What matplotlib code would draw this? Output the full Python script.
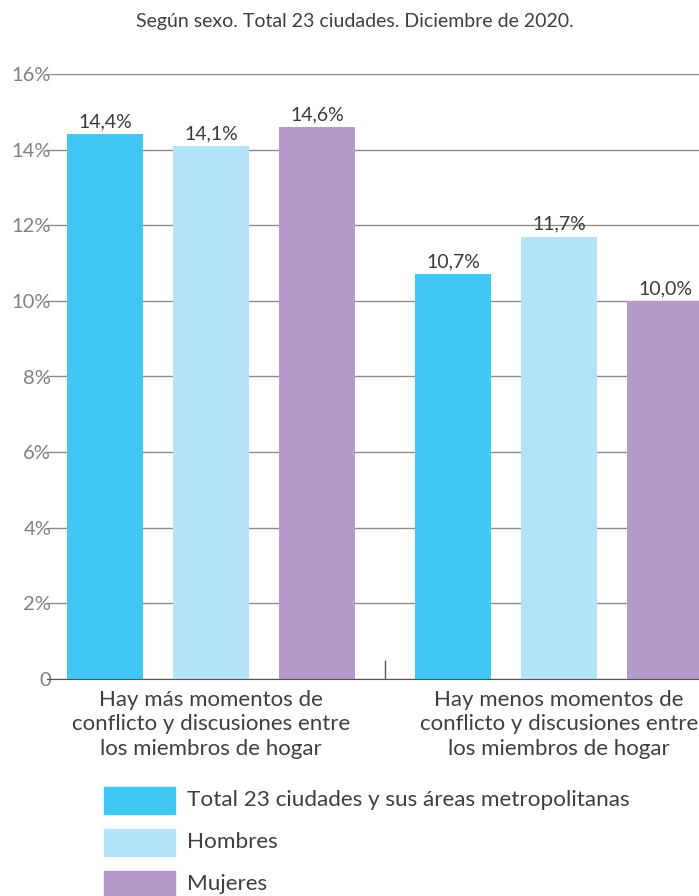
import matplotlib
matplotlib.use("Agg")
import matplotlib.pyplot as plt
import matplotlib.patches as patches
import numpy as np

plt.rcParams['font.family'] = ['Lato', 'DejaVu Sans']

# data
categories = ["Hay más momentos de\nconflicto y discusiones entre\nlos miembros de hogar",
              "Hay menos momentos de\nconflicto y discusiones entre\nlos miembros de hogar"]
series_names = ["Total 23 ciudades y sus áreas metropolitanas", "Hombres", "Mujeres"]
values = {
    "Total 23 ciudades y sus áreas metropolitanas": [14.4, 10.7],
    "Hombres": [14.1, 11.7],
    "Mujeres": [14.6, 10.0],
}
colors = ["#40c7f4", "#b4e3f8", "#b49ac8"]
yticks = [0, 2, 4, 6, 8, 10, 12, 14, 16]
ytick_labels = ["0", "2%", "4%", "6%", "8%", "10%", "12%", "14%", "16%"]
title = "Según sexo. Total 23 ciudades. Diciembre de 2020."

W, H = 699, 896
fig = plt.figure(figsize=(W / 100, H / 100), dpi=100)
ax = fig.add_axes([47 / W, 1 - 679 / H, 1 - 47 / W, (679 - 74) / H])

x = np.arange(len(categories))
bw = 76 / 348
off = 106 / 348
for i, name in enumerate(series_names):
    vals = values[name]
    pos = x + (i - 1) * off
    ax.bar(pos, vals, width=bw, color=colors[i], zorder=3)
    for p, v in zip(pos, vals):
        ax.text(p, v + 0.1, f"{v:.1f}%".replace(".", ","), ha="center", va="bottom",
                fontsize=14, color="#3a3a3a", zorder=4, clip_on=False)

ax.set_xlim(-0.4713, 1.4023)
ax.set_ylim(0, 16)
ax.set_yticks(yticks)
ax.set_yticklabels(ytick_labels, fontsize=14.5, color="#808080")
ax.tick_params(axis="y", length=0, pad=-3)
ax.set_xticks([0.5])
ax.set_xticklabels([""])
ax.tick_params(axis="x", direction="in", length=14, width=1, color="#555555")
for t in ax.get_yticklabels():
    t.set_zorder(5)
ax.grid(axis="y", color="#8c8c8c", linewidth=1, zorder=1)
for s in ["top", "right", "left"]:
    ax.spines[s].set_visible(False)
ax.spines["bottom"].set_color("#555555")
ax.spines["bottom"].set_zorder(4)

for xi, lab in zip(x, categories):
    ax.text(xi, -0.28, lab, ha="center", va="top", fontsize=16, color="#3f3f3f",
            linespacing=1.28, clip_on=False)

fig.text(355 / W, 1 - 22 / H, title, ha="center", va="center", fontsize=14, color="#3f3f3f")

# legend
for i, name in enumerate(series_names):
    yc = 800 + i * 42
    fig.add_artist(patches.Rectangle((104 / W, 1 - (yc + 13.5) / H), 71 / W, 27 / H,
                                     transform=fig.transFigure, color=colors[i]))
    fig.text(187 / W, 1 - yc / H, name, ha="left", va="center", fontsize=16.2, color="#3f3f3f")

fig.savefig("out.png", dpi=100)
